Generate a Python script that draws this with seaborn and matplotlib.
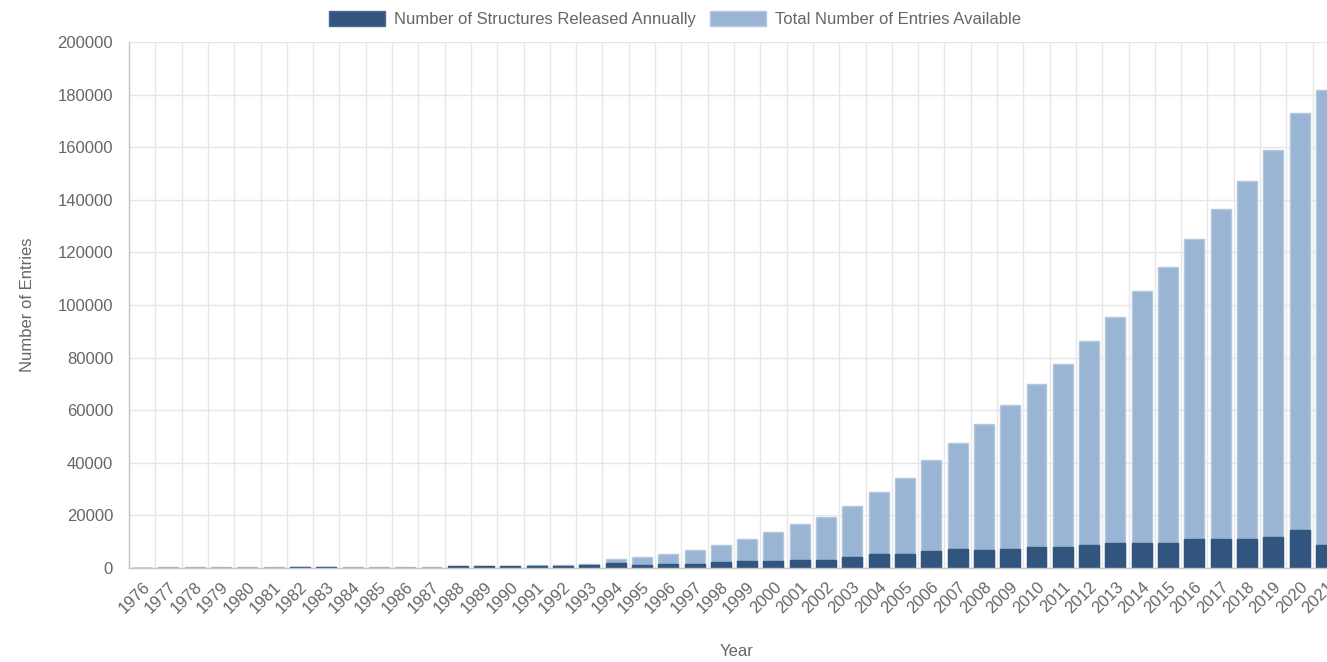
import numpy as np
import pandas as pd
import matplotlib
matplotlib.use("Agg")
import matplotlib.pyplot as plt
from matplotlib.patches import Patch
import seaborn as sns

# ---------------- data ----------------
years = list(range(1976, 2022))
year_labels = [str(y) for y in years]

total_entries = [15, 300, 350, 400, 420, 450, 480, 500, 450, 460, 480, 500,
                 600, 650, 700, 1100, 1100, 1500, 3300, 4300, 5300, 6800,
                 8600, 11100, 13800, 16600, 19300, 23600, 28900, 34200,
                 40900, 47700, 54800, 62000, 70000, 77600, 86400, 95600,
                 105300, 114400, 125200, 136500, 147300, 159000, 173100,
                 181700]

annual_released = [10, 60, 60, 70, 70, 80, 480, 500, 100, 100, 100, 120,
                   600, 650, 700, 800, 700, 1300, 1800, 1200, 1600, 1700,
                   2200, 2700, 2700, 3200, 3200, 4200, 5300, 5300,
                   6300, 7300, 6800, 7300, 7900, 7900, 8900, 9400,
                   9400, 9400, 11100, 11100, 11100, 11700, 14400,
                   8900]

y_ticks = list(range(0, 200001, 20000))

series_names = ["Number of Structures Released Annually",
                "Total Number of Entries Available"]

# ---------------- style ----------------
sns.set_theme(style="white")
plt.rcParams["font.family"] = ["Liberation Sans", "DejaVu Sans"]

DARK = "#31557e"
LIGHT = "#99b5d3"
LIGHT_EDGE = "#b3c8df"
TEXT = "#666666"
GRID = "#e6e6e6"
AXIS = "#c4c4c4"
FS = 12

df = pd.DataFrame({"Year": year_labels,
                   "total": total_entries,
                   "annual": annual_released})

fig = plt.figure(figsize=(13.27, 6.62), dpi=100)
ax = fig.add_axes([129 / 1327, 94 / 662, 1210 / 1327, 526 / 662])

sns.barplot(data=df, x="Year", y="total", order=year_labels, color=LIGHT,
            saturation=1, width=0.76, edgecolor=LIGHT_EDGE, linewidth=1,
            errorbar=None, ax=ax, zorder=2)
sns.barplot(data=df, x="Year", y="annual", order=year_labels, color=DARK,
            saturation=1, width=0.76, edgecolor=DARK, linewidth=1,
            errorbar=None, ax=ax, zorder=3)

n = len(year_labels)
ax.set_xlim(-0.5, n - 0.5)
ax.set_ylim(0, 200000)
ax.set_yticks(y_ticks)
ax.set_yticklabels([str(v) for v in y_ticks])

# gridlines at category boundaries (Chart.js offset grid)
ax.set_xticks(np.arange(-0.5, n, 1.0), minor=True)
ax.grid(False)
ax.grid(which="minor", axis="x", color=GRID, linewidth=1, zorder=0)
ax.grid(which="major", axis="y", color=GRID, linewidth=1, zorder=0)
ax.set_axisbelow(True)

ax.tick_params(axis="x", which="major", length=0, pad=8, labelsize=FS,
               labelcolor=TEXT)
ax.tick_params(axis="x", which="minor", length=7, color=GRID, width=1)
ax.tick_params(axis="y", which="major", length=6.5, color=GRID, width=1,
               pad=5, labelsize=FS, labelcolor=TEXT)
for lab in ax.get_xticklabels():
    lab.set_rotation(45)
    lab.set_ha("right")
    lab.set_va("top")
    lab.set_rotation_mode("anchor")

for s in ["top", "right"]:
    ax.spines[s].set_visible(False)
for s in ["left", "bottom"]:
    ax.spines[s].set_color(AXIS)
    ax.spines[s].set_linewidth(1)
    ax.spines[s].set_zorder(4)

ax.set_xlabel("Year", fontsize=FS, color=TEXT)
ax.xaxis.set_label_coords((737 - 129) / 1210, (568 - 652) / 526)
ax.xaxis.label.set_va("center")
ax.set_ylabel("Number of Entries", fontsize=FS, color=TEXT)
ax.yaxis.set_label_coords((27 - 129) / 1210, 0.5)
ax.yaxis.label.set_va("center")

handles = [Patch(facecolor=DARK, edgecolor="#4a6a90", linewidth=1),
           Patch(facecolor=LIGHT, edgecolor=LIGHT_EDGE, linewidth=1)]
fig.legend(handles, series_names, loc="center", ncol=2, frameon=False,
           bbox_to_anchor=(675 / 1327, 1 - 19 / 662), fontsize=FS,
           labelcolor=TEXT, handlelength=3.4, handleheight=1.05,
           handletextpad=0.55, columnspacing=0.8)

fig.savefig("out.png", dpi=100)
